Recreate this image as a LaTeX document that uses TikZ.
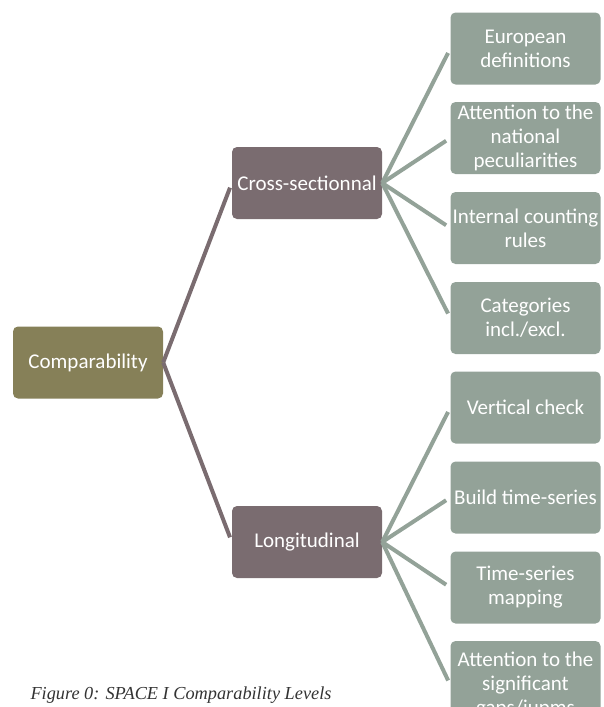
\documentclass[tikz,border=0pt]{standalone}
\usepackage{fontspec}
\setmainfont{Carlito}
\newfontfamily\capfont{Liberation Serif}
\definecolor{olivebox}{HTML}{868058}
\definecolor{mauvebox}{HTML}{7A6C70}
\definecolor{sagebox}{HTML}{93A298}
\tikzset{
  box/.style={rounded corners=5pt, minimum width=150pt, minimum height=72pt,
    inner sep=0pt, align=center, text=white, font=\fontsize{21}{24}\selectfont},
  link/.style={line width=4pt, shorten >=5pt}
}
\begin{document}
\begin{tikzpicture}[x=1pt,y=-1pt]
  \useasboundingbox (0,0) rectangle (604,707);
  \node[box,fill=olivebox] (comp) at (88,362.5) {Comparability};
  \node[box,fill=mauvebox] (cross) at (307,183) {Cross-sectionnal};
  \node[box,fill=mauvebox] (long) at (307,542) {Longitudinal};
  \draw[link,mauvebox] (comp.east) -- (cross.west);
  \draw[link,mauvebox] (comp.east) -- (long.west);
  % leaves of the cross-sectional branch
  \foreach \n/\y/\h/\t in {euro/48.5/72/{European\\definitions},
                           nat/138/72/{Attention to the\\national\\peculiarities},
                           rules/228/72/{Internal counting\\rules},
                           cat/318/72/{Categories\\incl./excl.}} {
    \node[box,fill=sagebox,minimum height=\h pt] (\n) at (525.5,\y) {\t};
    \draw[link,sagebox] (cross.east) -- (\n.west);
  }
  % leaves of the longitudinal branch
  \foreach \n/\y/\h/\t in {vert/407.5/72/{Vertical check},
                           build/497.5/72/{Build time-series},
                           map/587.5/72/{Time-series\\mapping},
                           gaps/685/88/{Attention to the\\significant\\gaps/jupms}} {
    \node[box,fill=sagebox,minimum height=\h pt] (\n) at (525.5,\y) {\t};
    \draw[link,sagebox] (long.east) -- (\n.west);
  }
  \node[anchor=west,text=black!80,font=\capfont\itshape\fontsize{18.3}{20}\selectfont] (caption) at (27,695) {Figure 0: SPACE I Comparability Levels};
\end{tikzpicture}
\end{document}
